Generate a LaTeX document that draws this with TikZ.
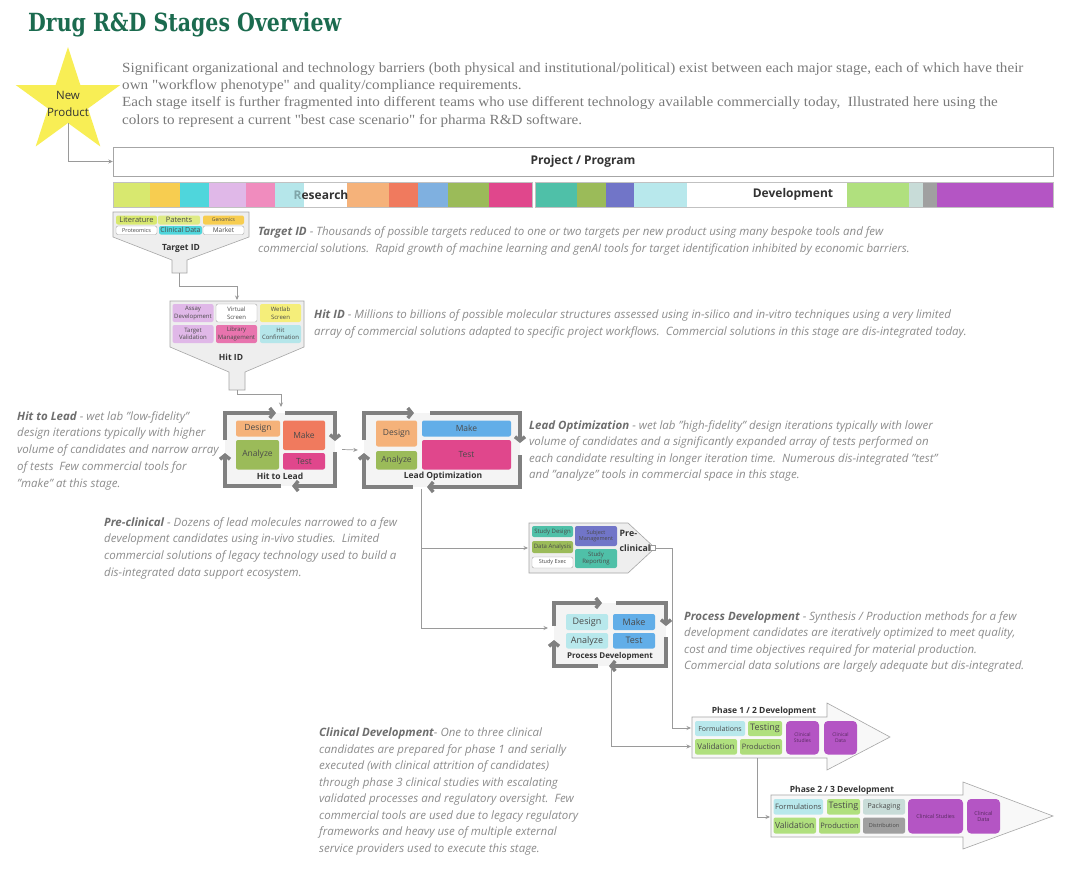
\documentclass[tikz,border=0pt]{standalone}
\usepackage{fontspec}
\setmainfont{Open Sans}
\newfontfamily\titlefont[FakeStretch=0.82]{DejaVu Serif}
\newfontfamily\parafont[FakeStretch=1.08]{Liberation Serif}
\usetikzlibrary{arrows.meta,shapes.geometric,calc}
\definecolor{titlegreen}{HTML}{1B6B4F}
\definecolor{staryellow}{HTML}{F8EE55}
\definecolor{boxgray}{HTML}{A6A6A6}
\definecolor{conngray}{HTML}{9A9A9A}
\definecolor{loopgray}{HTML}{808080}
\definecolor{loopfill}{HTML}{F4F4F4}
\definecolor{funfill}{HTML}{EEEEEE}
\definecolor{descgray}{HTML}{8C8C8C}
\definecolor{descbold}{HTML}{6E6E6E}
\definecolor{paragray}{HTML}{7A7A7A}
\definecolor{labeltext}{HTML}{333333}
\definecolor{celltext}{HTML}{4A4A4A}
\definecolor{lime}{HTML}{D8E86F}
\definecolor{gold}{HTML}{F7CD50}
\definecolor{cyanA}{HTML}{4FD6DC}
\definecolor{lilac}{HTML}{E0B8E8}
\definecolor{pinkA}{HTML}{F08CBE}
\definecolor{lblue}{HTML}{B5E6EA}
\definecolor{orangeA}{HTML}{F5B27A}
\definecolor{coral}{HTML}{F07A5E}
\definecolor{blueA}{HTML}{7FB0E0}
\definecolor{olive}{HTML}{9BBB59}
\definecolor{magenta}{HTML}{E0478C}
\definecolor{teal}{HTML}{4FC0A8}
\definecolor{indigo}{HTML}{7175C8}
\definecolor{lcyan}{HTML}{B8E8EC}
\definecolor{lgreen}{HTML}{B0E07E}
\definecolor{pale}{HTML}{C8DCD8}
\definecolor{grayA}{HTML}{A0A0A0}
\definecolor{purple}{HTML}{B455C4}
\definecolor{wetyellow}{HTML}{F5EE7A}
\definecolor{libpink}{HTML}{E874AE}
\definecolor{makeblue}{HTML}{62AEE8}
\definecolor{rgray}{HTML}{7FA5A8}
\newcommand\fsz[2]{\fontsize{#1}{#2}\selectfont}
\newcommand\cellnode[7]{\node[cellbox,#6,minimum width={#4-#2},minimum height={#5-#3}] (#1) at ({(#2+#4)/2},{(#3+#5)/2}) {#7};}
\tikzset{
  cellbox/.style={rounded corners=2pt, inner sep=0pt, align=center, text=celltext, font=\fsz{7}{8}},
  wbox/.style={draw=boxgray, fill=white},
  desc/.style={anchor=north west, inner sep=0pt, align=left, text=descgray, font=\itshape\fsz{11.5}{16.8}},
  conn/.style={draw=conngray, line width=0.7pt, -{Stealth[length=4.5pt,width=4pt]}},
  loopar/.style={draw=loopgray, line width=3.5pt, -{Straight Barb[length=4pt,width=10pt]}},
  loopbox/.style={fill=loopfill, inner sep=0pt},
  funnel/.style={fill=funfill, draw=boxgray, line width=0.6pt},
  stagelabel/.style={font=\bfseries\fsz{8.5}{10}, text=labeltext, inner sep=0pt},
  barlabel/.style={font=\bfseries\fsz{12}{14}, text=labeltext, inner sep=0pt}
}
\begin{document}
\begin{tikzpicture}[x=1pt,y=-1pt]
\useasboundingbox (0,0) rectangle (1071,873);
\fill[white] (0,0) rectangle (1071,873);

% title and intro
\node[anchor=west, inner sep=0pt, font=\titlefont\bfseries\fsz{25}{29}, text=titlegreen] (title) at (28,25) {Drug R\&D Stages Overview};
\node[anchor=north west, inner sep=0pt, align=left, font=\parafont\fsz{14}{17.4}, text=paragray] (intro) at (122,62) {Significant organizational and technology barriers (both physical and institutional/political) exist between each major stage, each of which have their\\own "workflow phenotype" and quality/compliance requirements.\\Each stage itself is further fragmented into different teams who use different technology available commercially today,\ \ Illustrated here using the\\colors to represent a current "best case scenario" for pharma R\&D software.};

% star
\node[star, star points=5, star point ratio=2.618, minimum size=110pt, inner sep=0pt, fill=staryellow] (star) at (68,102) {};
\node[align=center, inner sep=0pt, font=\fsz{11.5}{17}, text=labeltext] (startext) at (68,104) {New\\Product};

% project bar
\node[draw=boxgray, fill=white, minimum width=940, minimum height=29, inner sep=0pt, font=\bfseries\fsz{12}{14}, text=labeltext] (proj) at (583,161.5) {Project / Program};
\foreach \a/\b/\c in {113/150/lime,150/180/gold,180/209/cyanA,209/246/lilac,246/275/pinkA,275/304/lblue,304/347/white,347/389/orangeA,389/418/coral,418/448/blueA,448/489/olive,489/532/magenta,535/577/teal,577/606/olive,606/634/indigo,634/687/lcyan,687/847/white,847/909/lgreen,909/923/pale,923/937/grayA,937/1053/purple}
  \fill[\c] (\a,182) rectangle (\b,207);
\draw[boxgray!70, line width=0.6pt] (113,182) rectangle (532,207);
\draw[boxgray!70, line width=0.6pt] (535,182) rectangle (1053,207);
\node[barlabel] (research) at (321,194.5) {\textcolor{rgray}{R}esearch};
\node[barlabel] (development) at (793,194.5) {Development};

% Target ID funnel
\draw[funnel] (113,212) -- (249,212) -- (249,237) -- (187,260) -- (187,273) -- (172,273) -- (172,260) -- (113,237) -- cycle;
\cellnode{lit}{116}{215.5}{157}{224.5}{fill=lime, font=\fsz{7.5}{8}}{Literature}
\cellnode{pat}{158}{215.5}{200}{224.5}{fill=lime!85, font=\fsz{7.5}{8}}{Patents}
\cellnode{gen}{203}{215.5}{244}{224.5}{fill=gold, font=\fsz{5}{6}}{Genomics}
\cellnode{prot}{116}{226}{157}{234.5}{wbox, font=\fsz{5.5}{6}}{Proteomics}
\cellnode{clin}{159}{226}{202}{234.5}{fill=cyanA, font=\fsz{7}{8}}{Clinical Data}
\cellnode{mkt}{203}{226}{244}{234.5}{wbox, font=\fsz{6.5}{7}}{Market}
\node[stagelabel] (tidlabel) at (181,248) {Target ID};
\coordinate (tidout) at (179.5,273);

% Hit ID funnel
\draw[funnel] (170,301) -- (304,301) -- (304,347) -- (245,372) -- (245,390) -- (229,390) -- (229,372) -- (170,347) -- cycle;
\cellnode{assay}{172.5}{304}{213.5}{322}{fill=lilac, font=\fsz{6}{7.5}}{Assay\\Development}
\cellnode{virt}{216}{304}{257}{322}{wbox, font=\fsz{6}{7.5}}{Virtual\\Screen}
\cellnode{wet}{260}{304}{301}{322}{fill=wetyellow, font=\fsz{6}{7.5}}{Wetlab\\Screen}
\cellnode{tval}{172.5}{325}{213.5}{343}{fill=lilac, font=\fsz{6}{7.5}}{Target\\Validation}
\cellnode{lib}{216}{325}{257}{343}{fill=libpink, font=\fsz{6}{7.5}}{Library\\Management}
\cellnode{hconf}{260}{325}{301}{343}{fill=lblue, font=\fsz{6}{7.5}}{Hit\\Confirmation}
\node[stagelabel] (hidlabel) at (231,357) {Hit ID};
\coordinate (hidin) at (237,300);
\coordinate (hidout) at (237,390);
\draw[conn] (tidout) -- ++(0,13) -| (hidin);

% Hit to Lead loop
\node[loopbox, minimum width=110, minimum height=73] (htl) at (280,449.5) {};
\draw[loopar] (225,440) -- (225,413) -- (276,413);
\draw[loopar] (285,413) -- (335,413) -- (335,441);
\draw[loopar] (335,452) -- (335,486) -- (292,486);
\draw[loopar] (281,486) -- (225,486) -- (225,453);
\cellnode{htld}{236}{420.5}{280}{436.5}{fill=orangeA, font=\fsz{8.5}{9}}{Design}
\cellnode{htlm}{283}{420.5}{325}{450}{fill=coral, font=\fsz{8.5}{9}}{Make}
\cellnode{htla}{236}{440}{279}{469.5}{fill=olive, font=\fsz{8.5}{9}}{Analyze}
\cellnode{htlt}{283}{453}{325}{469.5}{fill=magenta, font=\fsz{8.5}{9}}{Test}
\node[stagelabel] (htllabel) at (280,476) {Hit to Lead};
\coordinate (htlin) at (281,407);
\draw[conn] (hidout) -- ++(0,4) -| (htlin);

% Lead optimization loop
\node[loopbox, minimum width=156, minimum height=74] (lo) at (442,450) {};
\draw[loopar] (364,440) -- (364,413) -- (414,413);
\draw[loopar] (430,413) -- (520,413) -- (520,443);
\draw[loopar] (520,455) -- (520,487) -- (427,487);
\draw[loopar] (413,487) -- (364,487) -- (364,453);
\cellnode{lod}{376}{420.5}{417}{446.5}{fill=orangeA, font=\fsz{8.5}{9}}{Design}
\cellnode{loa}{376}{451}{417}{469.5}{fill=olive, font=\fsz{8.5}{9}}{Analyze}
\cellnode{lom}{422}{420.5}{511}{436.5}{fill=makeblue, font=\fsz{8.5}{9}}{Make}
\cellnode{lot}{422}{440}{511}{469.5}{fill=magenta, font=\fsz{8.5}{9}}{Test}
\node[stagelabel] (lolabel) at (443,476) {Lead Optimization};
\draw[conn] ([xshift=7pt]htl.east) -- ([xshift=-6pt]lo.west);
\coordinate (lodown) at (421,489);

% Pre-clinical
\draw[funnel] (529,523) -- (628,523) -- (655,548) -- (628,573) -- (529,573) -- cycle;
\cellnode{sd}{532}{526}{573}{537}{fill=teal, font=\fsz{6}{7}}{Study Design}
\cellnode{sm}{575}{526}{617}{546}{fill=indigo, font=\fsz{5.5}{6.5}}{Subject\\Management}
\cellnode{da}{532}{541}{573}{553}{fill=olive, font=\fsz{6}{7}}{Data Analysis}
\cellnode{sr}{575}{549}{617}{568}{fill=teal, font=\fsz{6}{7}}{Study\\Reporting}
\cellnode{se}{532}{557}{573}{568}{wbox, font=\fsz{5.5}{6.5}}{Study Exec}
\node[anchor=west, align=left, inner sep=0pt, font=\bfseries\fsz{8.8}{14.5}, text=labeltext] (prelabel) at (619.5,541) {Pre-\\clinical};
\node[draw=conngray, fill=white, minimum size=5pt, inner sep=0pt] (presq) at (653,548) {};
\coordinate (prein) at (528,548);
\draw[conn] (lodown) |- (prein);

% Process development loop
\node[loopbox, minimum width=112, minimum height=63] (pd) at (610,634.5) {};
\draw[loopar] (554,626) -- (554,603) -- (602,603);
\draw[loopar] (616,603) -- (666,603) -- (666,626);
\draw[loopar] (666,637) -- (666,666) -- (609,666);
\draw[loopar] (598,666) -- (554,666) -- (554,640);
\cellnode{pdd}{566}{614}{608}{630}{fill=lcyan, font=\fsz{9}{10}}{Design}
\cellnode{pdm}{613}{614}{655}{630}{fill=makeblue, font=\fsz{9}{10}}{Make}
\cellnode{pda}{566}{633}{608}{648.5}{fill=lcyan, font=\fsz{9}{10}}{Analyze}
\cellnode{pdt}{613}{633}{655}{648.5}{fill=makeblue, font=\fsz{9}{10}}{Test}
\node[stagelabel, font=\bfseries\fsz{8}{9}] (pdlabel) at (610,656) {Process Development};
\coordinate (pdin) at (548,628);
\draw[conn] (lodown) |- (pdin);
\coordinate (pdout) at (611,668);

% Phase 1/2
\draw[funnel, fill=white!60!funfill] (692,717) -- (827,717) -- (827,703) -- (890,737) -- (827,770) -- (827,758) -- (692,758) -- cycle;
\node[stagelabel] (p1label) at (764,711) {Phase 1 / 2 Development};
\cellnode{p1f}{695}{721}{745}{736}{fill=lcyan, font=\fsz{7}{8}}{Formulations}
\cellnode{p1t}{748}{721}{782}{736}{fill=lgreen, font=\fsz{9}{10}}{Testing}
\cellnode{p1v}{695}{739}{737}{754.5}{fill=lgreen, font=\fsz{8}{9}}{Validation}
\cellnode{p1p}{740}{739}{782}{754.5}{fill=lgreen!90!olive, font=\fsz{7.5}{8}}{Production}
\cellnode{p1cs}{786}{721}{819}{754.5}{fill=purple, rounded corners=4pt, text=purple!50!black, font=\fsz{5}{6.5}}{Clinical\\Studies}
\cellnode{p1cd}{824}{721}{857}{754.5}{fill=purple, rounded corners=4pt, text=purple!50!black, font=\fsz{5}{6.5}}{Clinical\\Data}
\coordinate (p1in1) at (691,728);
\coordinate (p1in2) at (691,746.5);
\coordinate (p1out) at (757,758);
\draw[conn] (presq.east) -- ++(17,0) |- (p1in1);
\draw[conn] (pdout) |- (p1in2);

% Phase 2/3
\draw[funnel, fill=white!60!funfill] (771,795) -- (963,795) -- (963,782) -- (1053,816) -- (963,849) -- (963,837) -- (771,837) -- cycle;
\node[stagelabel] (p2label) at (842,790) {Phase 2 / 3 Development};
\cellnode{p2f}{773.5}{799}{823}{814.5}{fill=lcyan, font=\fsz{7.5}{8}}{Formulations}
\cellnode{p2t}{827}{799}{860}{814.5}{fill=lgreen, font=\fsz{9}{10}}{Testing}
\cellnode{p2k}{863}{799}{905}{814.5}{fill=pale, font=\fsz{7}{8}}{Packaging}
\cellnode{p2v}{773.5}{817.5}{816}{833.5}{fill=lgreen, font=\fsz{8.5}{9}}{Validation}
\cellnode{p2p}{819}{817.5}{860}{833.5}{fill=lgreen!90!olive, font=\fsz{7.5}{8}}{Production}
\cellnode{p2d}{863}{817.5}{905}{833.5}{fill=grayA, font=\fsz{5.5}{6}}{Distribution}
\cellnode{p2cs}{908}{799}{963}{833.5}{fill=purple, rounded corners=4pt, text=purple!50!black, font=\fsz{5.5}{6.5}}{Clinical Studies}
\cellnode{p2cd}{967}{799}{1000}{833.5}{fill=purple, rounded corners=4pt, text=purple!50!black, font=\fsz{5.5}{6.5}}{Clinical\\Data}
\coordinate (p2in) at (770,817);
\draw[conn] (p1out) |- (p2in);

% connector star -> project
\draw[conn] (star.south) |- (proj.west);

% descriptions
\node[desc] (tidtext) at (258,226.4) {\textcolor{descbold}{\textbf{Target ID}} - Thousands of possible targets reduced to one or two targets per new product using many bespoke tools and few\\commercial solutions.\ \ Rapid growth of machine learning and genAI tools for target identification inhibited by economic barriers.};
\node[desc] (hidtext) at (314,309.4) {\textcolor{descbold}{\textbf{Hit ID}} - Millions to billions of possible molecular structures assessed using in-silico and in-vitro techniques using a very limited\\array of commercial solutions adapted to specific project workflows.\ \ Commercial solutions in this stage are dis-integrated today.};
\node[desc] (htltext) at (17,411) {\textcolor{descbold}{\textbf{Hit to Lead}} - wet lab "low-fidelity"\\design iterations typically with higher\\volume of candidates and narrow array\\of tests\ \ Few commercial tools for\\"make" at this stage.};
\node[desc, font=\itshape\fsz{11.5}{16.5}] (lotext) at (529,420.4) {\textcolor{descbold}{\textbf{Lead Optimization}} - wet lab "high-fidelity" design iterations typically with lower\\volume of candidates and a significantly expanded array of tests performed on\\each candidate resulting in longer iteration time.\ \ Numerous dis-integrated "test"\\and "analyze" tools in commercial space in this stage.};
\node[desc] (pretext) at (104,517) {\textcolor{descbold}{\textbf{Pre-clinical}} - Dozens of lead molecules narrowed to a few\\development candidates using in-vivo studies.\ \ Limited\\commercial solutions of legacy technology used to build a\\dis-integrated data support ecosystem.};
\node[desc, font=\itshape\fsz{11.5}{16.5}] (pdtext) at (684,611) {\textcolor{descbold}{\textbf{Process Development}} - Synthesis / Production methods for a few\\development candidates are iteratively optimized to meet quality,\\cost and time objectives required for material production.\\Commercial data solutions are largely adequate but dis-integrated.};
\node[desc, font=\itshape\fsz{11.5}{16.5}] (cdtext) at (319,728) {\textcolor{descbold}{\textbf{Clinical Development}}- One to three clinical\\candidates are prepared for phase 1 and serially\\executed (with clinical attrition of candidates)\\through phase 3 clinical studies with escalating\\validated processes and regulatory oversight.\ \ Few\\commercial tools are used due to legacy regulatory\\frameworks and heavy use of multiple external\\service providers used to execute this stage.};
\end{tikzpicture}
\end{document}
